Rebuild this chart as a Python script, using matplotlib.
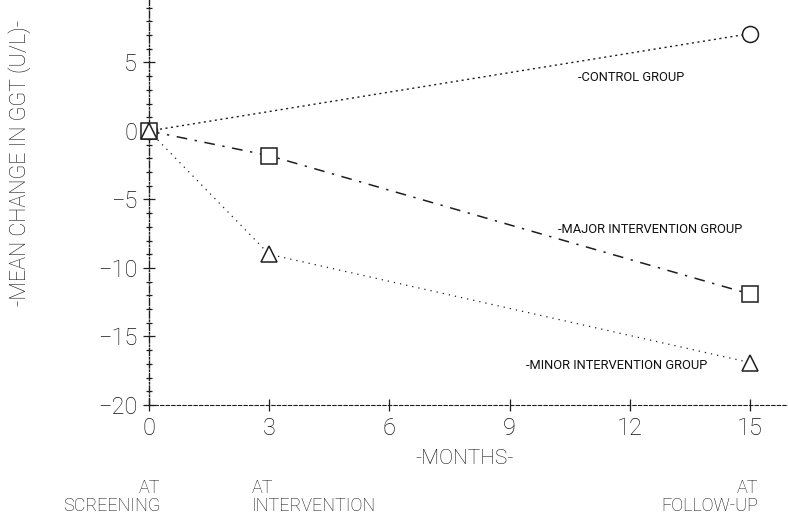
import matplotlib
matplotlib.use("Agg")
import matplotlib.pyplot as plt
from matplotlib.ticker import MultipleLocator

plt.rcParams['font.family'] = ['Roboto', 'DejaVu Sans']
plt.rcParams['font.weight'] = 'light'

# ---- data ----
control_months = [0, 15]
control_values = [0.0, 7.1]
months = [0, 3, 15]
major_values = [0.0, -1.8, -11.9]
minor_values = [0.0, -9.0, -16.9]
x_ticks = [0, 3, 6, 9, 12, 15]
y_ticks = [-20, -15, -10, -5, 0, 5]
group_labels = ["-CONTROL GROUP", "-MAJOR INTERVENTION GROUP", "-MINOR INTERVENTION GROUP"]
label_anchor_x = [10.7, 10.2, 9.4]
label_anchor_y = [3.9, -7.2, -17.1]
phase_labels = ["AT\nSCREENING", "AT\nINTERVENTION", "AT\nFOLLOW-UP"]

INK = "#1e1e1e"
TXT = "#111111"
W, H = 788, 514
fig = plt.figure(figsize=(W / 100, H / 100), dpi=100)
fig.patch.set_facecolor("white")
ax = fig.add_axes([149 / W, (H - 405) / H, (W - 149) / W, 405 / H])
ax.set_facecolor("white")

ax.set_xlim(0, 15.95)
ax.set_ylim(-20, 9.56)

# lines
ax.plot(control_months, control_values, color=INK, lw=1.0, ls=(0, (1.5, 2.5)), zorder=2)
ax.plot(months, major_values, color=INK, lw=1.1, ls=(0, (7, 5, 1.5, 5)), zorder=2)
ax.plot(months, minor_values, color=INK, lw=0.9, ls=(0, (1, 4)), zorder=2)

# markers (white fill hides the lines inside them)
ax.plot(control_months, control_values, ls="none", marker="o", ms=11.5,
        mfc="white", mec=INK, mew=1.1, zorder=3, clip_on=False)
ax.plot(months, major_values, ls="none", marker="s", ms=11,
        mfc="white", mec=INK, mew=1.1, zorder=4, clip_on=False)
ax.plot(months, minor_values, ls="none", marker="^", ms=11.5,
        mfc="white", mec=INK, mew=1.1, zorder=5, clip_on=False)

# group labels
for txt, gx, gy in zip(group_labels, label_anchor_x, label_anchor_y):
    ax.text(gx, gy, txt, fontsize=9.3, color=TXT, ha="left", va="center",
            fontweight="normal",
            bbox=dict(boxstyle="square,pad=0.15", fc="white", ec="none"))

# spines
for s in ["top", "right"]:
    ax.spines[s].set_visible(False)
ax.spines["left"].set_linestyle((0, (5, 1.5, 1, 1.5)))
ax.spines["bottom"].set_linestyle((0, (3, 2)))
ax.spines["left"].set_linewidth(1.0)
ax.spines["bottom"].set_linewidth(0.8)
ax.spines["left"].set_color(INK)
ax.spines["bottom"].set_color(INK)

ax.set_xticks(x_ticks)
ax.set_yticks(y_ticks)
ax.set_xticklabels([str(v) for v in x_ticks])
ax.set_yticklabels([("\u2212" + str(-v)) if v < 0 else str(v) for v in y_ticks])
ax.yaxis.set_minor_locator(MultipleLocator(1))
ax.tick_params(axis="both", which="major", direction="inout", length=9, width=0.9,
               colors=INK, labelcolor=TXT, labelsize=17, pad=4)
ax.tick_params(axis="y", which="minor", direction="inout", length=4, width=0.9, colors=INK)

# axis titles
fig.text(20 / W, 1 - 163 / H, "-MEAN CHANGE IN GGT (U/L)-", rotation=90,
         ha="center", va="center", fontsize=15.5, color=TXT)
fig.text(465 / W, 1 - 458 / H, "-MONTHS-", ha="center", va="center",
         fontsize=15, color=TXT)

# phase labels
fig.text(160 / W, 1 - 497 / H, phase_labels[0], ha="right", va="center",
         fontsize=13, color=TXT, multialignment="right", linespacing=0.95)
fig.text(252 / W, 1 - 497 / H, phase_labels[1], ha="left", va="center",
         fontsize=13, color=TXT, multialignment="left", linespacing=0.95)
fig.text(758 / W, 1 - 497 / H, phase_labels[2], ha="right", va="center",
         fontsize=13, color=TXT, multialignment="right", linespacing=0.95)

fig.savefig("out.png", dpi=100, facecolor="white")
